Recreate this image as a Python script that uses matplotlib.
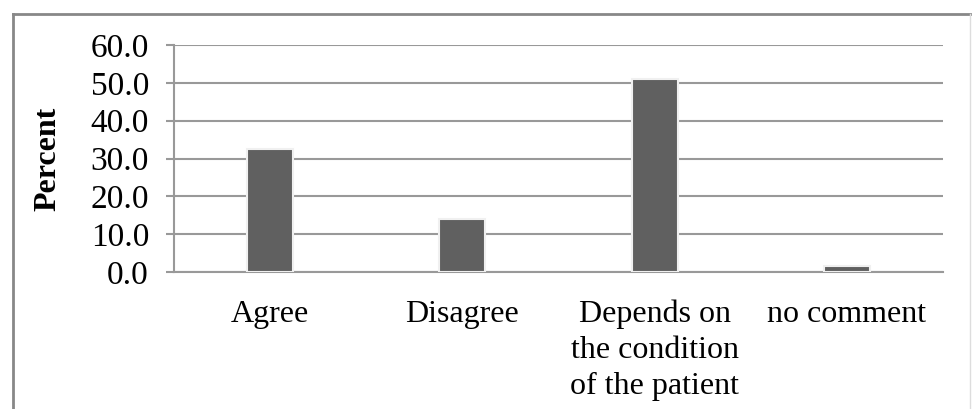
import matplotlib.pyplot as plt
from matplotlib.lines import Line2D

categories = ['Agree', 'Disagree', 'Depends on\nthe condition\nof the patient', 'no comment']
percent = [32.4, 14.1, 50.9, 1.6]
yticks = [0, 10, 20, 30, 40, 50, 60]

plt.rcParams['font.family'] = ['Liberation Serif', 'DejaVu Serif']

fig = plt.figure(figsize=(9.72, 4.09), dpi=100)
ax = fig.add_axes([174 / 972, 1 - 272 / 409, 769 / 972, 227 / 409])

x = range(len(categories))
ax.bar(x, percent, width=0.24, color='#606060', edgecolor='#f0f0f0', linewidth=1.5, zorder=3)

ax.set_xlim(-0.5, len(categories) - 0.5)
ax.set_ylim(0, 60)
ax.set_yticks(yticks)
ax.set_yticklabels(['%.1f' % v for v in yticks])
ax.set_xticks(list(x))
ax.set_xticklabels(categories, linespacing=1.32)
ax.grid(axis='y', color='#999999', linewidth=1.5, zorder=0)
ax.tick_params(axis='y', length=6, width=1.5, color='#999999', labelsize=24, pad=12)
ax.tick_params(axis='x', length=0, labelsize=23, pad=20)
for s in ['top', 'right']:
    ax.spines[s].set_visible(False)
for s in ['left', 'bottom']:
    ax.spines[s].set_color('#999999')
    ax.spines[s].set_linewidth(1.5)
ax.set_ylabel('Percent', fontsize=23, fontweight='bold', labelpad=20)

# outer frame
fig.add_artist(Line2D([13 / 972, 13 / 972], [0, 1 - 14 / 409], transform=fig.transFigure, color='#888888', lw=2))
fig.add_artist(Line2D([13 / 972, 970 / 972], [1 - 14 / 409, 1 - 14 / 409], transform=fig.transFigure, color='#888888', lw=2))
fig.add_artist(Line2D([970 / 972, 970 / 972], [0, 1 - 14 / 409], transform=fig.transFigure, color='#dddddd', lw=1))

fig.savefig('out.png', dpi=100)
